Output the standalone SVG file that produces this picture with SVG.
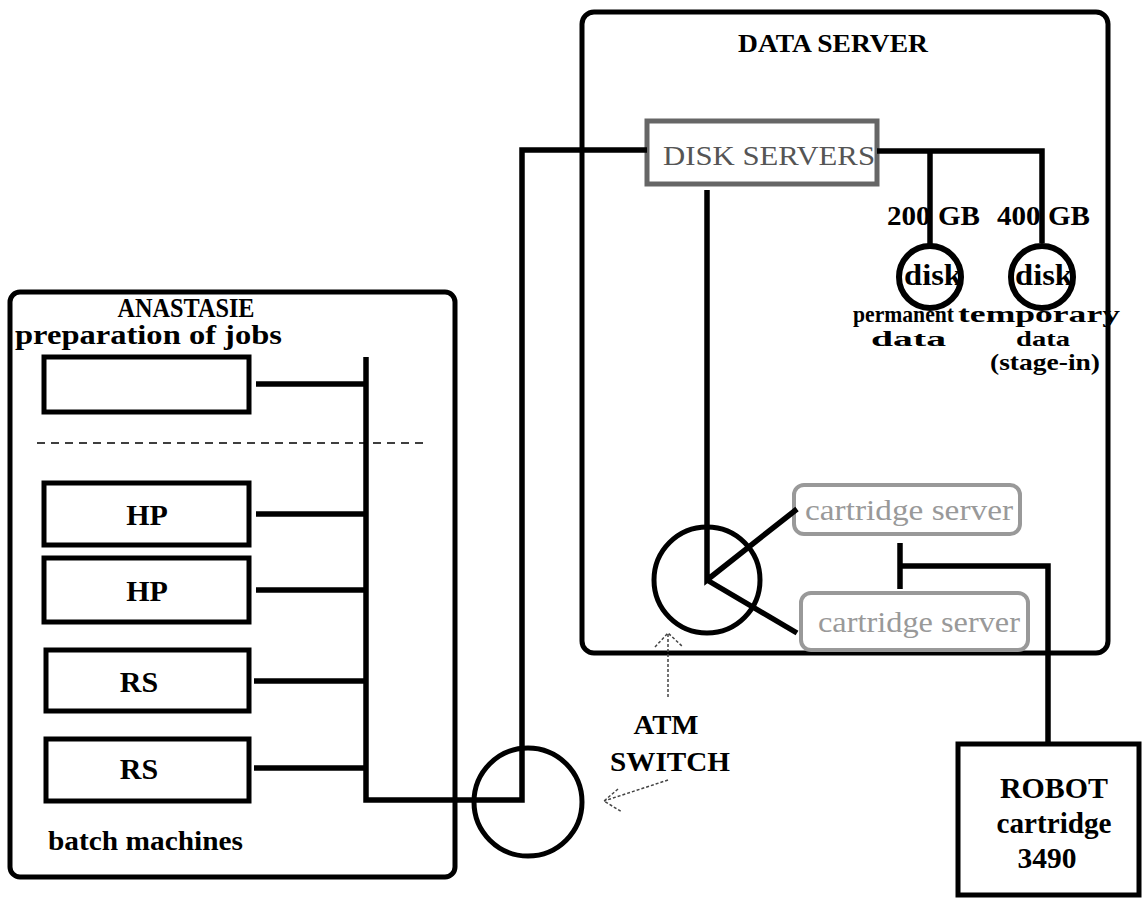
<svg xmlns="http://www.w3.org/2000/svg" width="1144" height="901" viewBox="0 0 1144 901">
  <style>
    .frame { fill: none; stroke: #000; stroke-width: 5; }
    .box { fill: #fff; stroke: #000; stroke-width: 5; }
    .gbox { fill: #fff; stroke: #666; stroke-width: 5; }
    .lbox { fill: #fff; stroke: #999; stroke-width: 4; }
    .wire { fill: none; stroke: #000; stroke-width: 5.5; stroke-linejoin: miter; }
    .ring { fill: none; stroke: #000; stroke-width: 5; }
    .disk { fill: #fff; stroke: #000; stroke-width: 6; }
    .dot { fill: none; stroke: #444; stroke-width: 1.5; stroke-dasharray: 3 2; }
    .dash { fill: none; stroke: #000; stroke-width: 1.5; stroke-dasharray: 8 6; }
    .b { font-family: "Liberation Serif", "Times New Roman", serif; font-weight: bold; fill: #000; }
    .r { font-family: "Liberation Serif", "Times New Roman", serif; }
  </style>

  <!-- ANASTASIE cluster -->
  <g id="anastasie">
    <rect class="frame" x="10" y="292" width="445" height="585" rx="10"/>
    <text class="b" x="186" y="317" font-size="27" text-anchor="middle" textLength="137" lengthAdjust="spacingAndGlyphs">ANASTASIE</text>
    <text class="b" x="15" y="344" font-size="27" textLength="267" lengthAdjust="spacingAndGlyphs">preparation of jobs</text>
    <line class="dash" x1="37" y1="443" x2="428" y2="443"/>
    <text class="b" x="48" y="850" font-size="28" textLength="195" lengthAdjust="spacingAndGlyphs">batch machines</text>
  </g>

  <g id="prep-machine">
    <rect class="box" x="44" y="357" width="205" height="55"/>
  </g>
  <g id="hp-1">
    <rect class="box" x="44" y="483" width="205" height="62"/>
    <text class="b" x="147" y="525" font-size="30" text-anchor="middle">HP</text>
  </g>
  <g id="hp-2">
    <rect class="box" x="44" y="558" width="205" height="64"/>
    <text class="b" x="147" y="601" font-size="30" text-anchor="middle">HP</text>
  </g>
  <g id="rs-1">
    <rect class="box" x="46" y="650" width="203" height="61"/>
    <text class="b" x="139" y="692" font-size="30" text-anchor="middle">RS</text>
  </g>
  <g id="rs-2">
    <rect class="box" x="46" y="739" width="203" height="62"/>
    <text class="b" x="139" y="779" font-size="30" text-anchor="middle">RS</text>
  </g>

  <!-- DATA SERVER cluster -->
  <g id="data-server">
    <rect class="frame" x="582" y="12" width="526" height="641" rx="12"/>
    <text class="b" x="833" y="52" font-size="26" text-anchor="middle" textLength="190" lengthAdjust="spacingAndGlyphs">DATA SERVER</text>
  </g>

  <g id="disk-servers">
    <rect class="gbox" x="647" y="121" width="230" height="63"/>
    <text class="r" x="663" y="165" font-size="27" fill="#555" textLength="212" lengthAdjust="spacingAndGlyphs">DISK SERVERS</text>
  </g>

  <g id="disk-permanent">
    <text class="b" x="887" y="225" font-size="28" textLength="93" lengthAdjust="spacingAndGlyphs">200 GB</text>
    <circle class="disk" cx="930" cy="277" r="31"/>
    <text class="b" x="904" y="285" font-size="29" textLength="58" lengthAdjust="spacingAndGlyphs">disk</text>
    <text class="b" x="853" y="322" font-size="23" textLength="101" lengthAdjust="spacingAndGlyphs">permanent</text>
    <text class="b" x="871" y="346" font-size="22" textLength="75" lengthAdjust="spacingAndGlyphs">data</text>
  </g>

  <g id="disk-temporary">
    <text class="b" x="997" y="225" font-size="28" textLength="93" lengthAdjust="spacingAndGlyphs">400 GB</text>
    <circle class="disk" cx="1042" cy="277" r="31"/>
    <text class="b" x="1015" y="285" font-size="29" textLength="58" lengthAdjust="spacingAndGlyphs">disk</text>
    <text class="b" x="958" y="322" font-size="23" textLength="162" lengthAdjust="spacingAndGlyphs">temporary</text>
    <text class="b" x="1016" y="346" font-size="22" textLength="54" lengthAdjust="spacingAndGlyphs">data</text>
    <text class="b" x="990" y="370" font-size="24" textLength="110" lengthAdjust="spacingAndGlyphs">(stage-in)</text>
  </g>

  <g id="cartridge-server-1">
    <rect class="lbox" x="794" y="485" width="226" height="49" rx="10"/>
    <text class="r" x="805" y="520" font-size="29" fill="#999" textLength="208" lengthAdjust="spacingAndGlyphs">cartridge server</text>
  </g>
  <g id="cartridge-server-2">
    <rect class="lbox" x="801" y="593" width="227" height="57" rx="10"/>
    <text class="r" x="818" y="632" font-size="29" fill="#999" textLength="202" lengthAdjust="spacingAndGlyphs">cartridge server</text>
  </g>

  <g id="atm-switch-inner">
    <circle class="ring" cx="707" cy="580" r="53"/>
  </g>
  <g id="atm-switch-outer">
    <circle class="ring" cx="528" cy="802" r="54"/>
  </g>

  <g id="atm-label">
    <text class="b" x="666" y="734" font-size="27" fill="#222" text-anchor="middle" textLength="65" lengthAdjust="spacingAndGlyphs">ATM</text>
    <text class="b" x="670" y="771" font-size="27" fill="#222" text-anchor="middle" textLength="120" lengthAdjust="spacingAndGlyphs">SWITCH</text>
  </g>

  <g id="robot">
    <rect class="box" x="958" y="744" width="181" height="151"/>
    <text class="b" x="1054" y="798" font-size="29" text-anchor="middle" textLength="108" lengthAdjust="spacingAndGlyphs">ROBOT</text>
    <text class="b" x="1054" y="833" font-size="29" text-anchor="middle" textLength="115" lengthAdjust="spacingAndGlyphs">cartridge</text>
    <text class="b" x="1047" y="868" font-size="29" text-anchor="middle" textLength="59" lengthAdjust="spacingAndGlyphs">3490</text>
  </g>

  <!-- links -->
  <g id="connectors">
    <line class="wire" x1="256" y1="384" x2="366" y2="384"/>
    <line class="wire" x1="256" y1="514" x2="366" y2="514"/>
    <line class="wire" x1="256" y1="590" x2="366" y2="590"/>
    <line class="wire" x1="254" y1="681" x2="366" y2="681"/>
    <line class="wire" x1="254" y1="768" x2="366" y2="768"/>
    <polyline class="wire" points="366,357 366,800 522,800 522,150 647,150"/>
    <polyline class="wire" points="877,151 1042,151 1042,243"/>
    <line class="wire" x1="930" y1="151" x2="930" y2="246"/>
    <polyline class="wire" points="707,190 707,580 797,509"/>
    <line class="wire" x1="707" y1="580" x2="797" y2="633"/>
    <line class="wire" x1="900" y1="543" x2="900" y2="589"/>
    <polyline class="wire" points="900,566 1048,566 1048,744"/>
    <!-- pointers to the switches -->
    <line class="dot" x1="668" y1="697" x2="668" y2="633"/>
    <polyline class="dot" points="655,647 668,633 683,647"/>
    <line class="dot" x1="668" y1="780" x2="604" y2="801"/>
    <polyline class="dot" points="618,789 604,801 622,812"/>
  </g>
</svg>
